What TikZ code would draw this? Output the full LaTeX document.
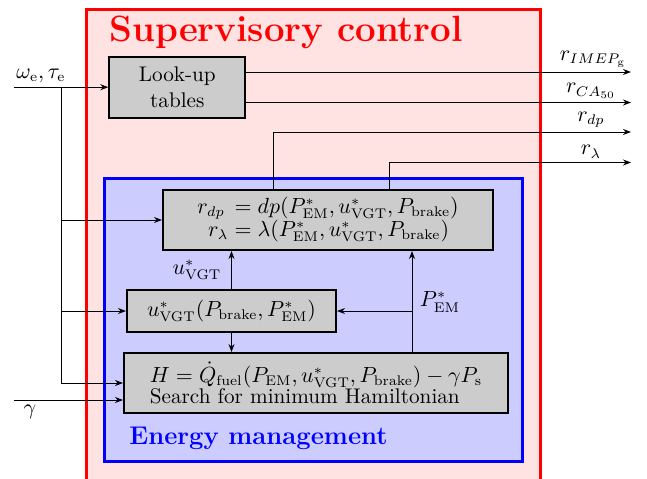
\documentclass[tikz,border=0pt]{standalone}
\usepackage{amsmath}
\usetikzlibrary{arrows.meta}
\begin{document}
\begin{tikzpicture}[x=0.5pt,y=-0.5pt,
  every node/.style={font=\fontsize{10.6}{12.8}\selectfont},
  box/.style={draw=black,line width=1pt,fill=black!20,inner sep=0pt},
  conn/.style={-{Stealth[length=4pt,width=3pt]},line width=0.5pt},
  lbl/.style={inner sep=1pt}]
\useasboundingbox (0,0) rectangle (647,478);
% outer supervisory box
\draw[red,fill=red!11,line width=1.5pt] (86,9) rectangle (540,490);
\node[anchor=base west,text=red,inner sep=0pt,font=\fontsize{18.3}{21}\selectfont\bfseries] (title) at (109,41) {Supervisory control};
% energy management box
\draw[blue,fill=blue!20,line width=1.5pt] (104,178) rectangle (522,461);
\node[anchor=base west,text=blue,inner sep=0pt,font=\fontsize{12.8}{15}\selectfont\bfseries] (em) at (129,444) {Energy management};
% blocks
\node[box,minimum width=68pt,minimum height=30.5pt,align=center] (lut) at (177.3,87.2) {Look-up\\tables};
\node[box,minimum width=165pt,minimum height=30pt] (rdp) at (328,220)
  {\renewcommand{\arraystretch}{0.88}$\begin{array}{r@{\;=\;}l}
    r_{dp}\, & dp(P^*_{\mathrm{EM}},u^*_{\mathrm{VGT}},P_{\mathrm{brake}})\\
    r_{\lambda} & \lambda(P^*_{\mathrm{EM}},u^*_{\mathrm{VGT}},P_{\mathrm{brake}})
  \end{array}$};
\node[box,minimum width=104.5pt,minimum height=21pt] (uv) at (231.5,311)
  {$u^*_{\mathrm{VGT}}(P_{\mathrm{brake}},P^*_{\mathrm{EM}})$};
\node[box,minimum width=192pt,minimum height=30pt,align=left] (H) at (316,383)
  {$H=\dot{Q}_{\mathrm{fuel}}(P_{\mathrm{EM}},u^*_{\mathrm{VGT}},P_{\mathrm{brake}})-\gamma P_{\mathrm{s}}$\\[-2pt]
   Search for minimum Hamiltonian};
% inputs
\coordinate (in1) at (14,87.2);
\coordinate (bus) at (61.5,87.2);
\coordinate (gin) at (14,400);
\node[lbl,anchor=base] (wt) at (41,78) {$\omega_{\mathrm{e}},\tau_{\mathrm{e}}$};
\node[lbl] (gl) at (30,412) {$\gamma$};
\draw[conn] (in1) -- (lut.west);
\draw[conn] (bus) |- (rdp.west);
\draw[conn] (bus) |- (uv.west);
\draw[conn] (bus) |- (H.west);
\draw[conn] (gin) -- (gin -| H.west);
% outputs
\coordinate (oA) at (631,72);
\coordinate (oB) at (631,102.5);
\coordinate (oC) at (631,132);
\coordinate (oD) at (631,162.5);
\draw[conn] (lut.east |- oA) -- (oA);
\draw[conn] (lut.east |- oB) -- (oB);
\draw[conn] ([xshift=-27.5pt]rdp.north) |- (oC);
\draw[conn] ([xshift=30.5pt]rdp.north) |- (oD);
\node[lbl,anchor=south] (lA) at (593,70) {$r_{IMEP_{\mathrm{g}}}$};
\node[lbl,anchor=south] (lB) at (591,100.5) {$r_{CA_{50}}$};
\node[lbl,anchor=south] (lC) at (591,130) {$r_{dp}$};
\node[lbl,anchor=south] (lD) at (591,160.5) {$r_{\lambda}$};
% internal connections
\draw[conn] (uv.north) -- (uv.north |- rdp.south);
\draw[conn] (uv.south) -- (uv.south |- H.north);
\coordinate (hx) at ([xshift=48pt]H.north);
\draw[conn] (hx) -- (hx |- rdp.south);
\draw[conn] (hx |- uv.east) -- (uv.east);
\node[lbl] (lu) at (197,270) {$u^*_{\mathrm{VGT}}$};
\node[lbl] (lp) at (440,302) {$P^*_{\mathrm{EM}}$};
\end{tikzpicture}
\end{document}
